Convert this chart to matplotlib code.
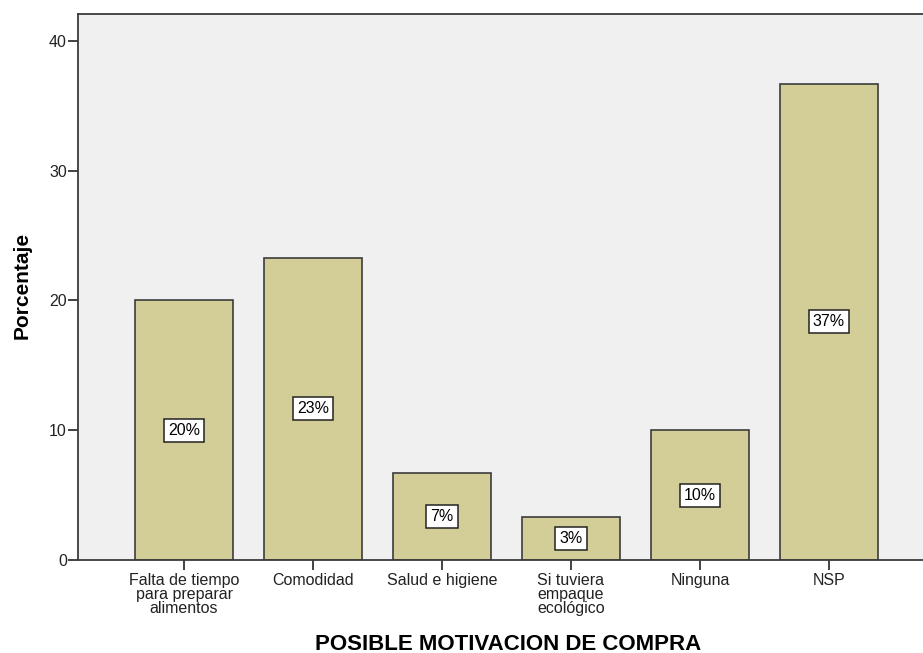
import matplotlib.pyplot as plt

plt.rcParams['font.family'] = ['Liberation Sans', 'DejaVu Sans']

categories = ["Falta de tiempo\npara preparar\nalimentos", "Comodidad", "Salud e higiene",
              "Si tuviera\nempaque\necológico", "Ninguna", "NSP"]
porcentaje = [20.0, 23.3, 6.7, 3.3, 10.0, 36.7]
etiquetas = ["20%", "23%", "7%", "3%", "10%", "37%"]

fig = plt.figure(figsize=(9.23, 6.53), dpi=100)
ax = fig.add_axes([0.0845, 0.1424, 0.9155, 0.8362])
ax.set_facecolor('#f0f0f0')

pos = list(range(len(categories)))
ax.bar(pos, porcentaje, width=0.76, color='#d3ce97', edgecolor='#3c3c3c', linewidth=1.2, zorder=2)

for x, v, t in zip(pos, porcentaje, etiquetas):
    ax.text(x, v / 2, t, ha='center', va='center', fontsize=11.5, zorder=3,
            bbox=dict(boxstyle='square,pad=0.25', facecolor='white', edgecolor='#222222', linewidth=1.1))

ax.set_xlim(-0.822, 5.729)
ax.set_ylim(0, 42.08)
ax.set_yticks([0, 10, 20, 30, 40])
ax.set_xticks(pos)
ax.set_xticklabels(categories, fontsize=11.5, linespacing=0.95, va='top')
ax.tick_params(axis='y', labelsize=11.5, length=7, width=1.2, colors='#222222', pad=1)
ax.tick_params(axis='x', length=7, width=1.2, colors='#222222', pad=2)

for s in ['left', 'top', 'bottom']:
    ax.spines[s].set_color('#3c3c3c')
    ax.spines[s].set_linewidth(1.3)
ax.spines['right'].set_visible(False)

ax.set_ylabel("Porcentaje", fontsize=15, fontweight='bold', va='center')
ax.yaxis.set_label_coords(-0.0663, 0.503)
ax.set_xlabel("POSIBLE MOTIVACION DE COMPRA", fontsize=16, fontweight='bold', va='center')
ax.xaxis.set_label_coords(0.509, -0.154)

fig.savefig("out.png", dpi=100)
